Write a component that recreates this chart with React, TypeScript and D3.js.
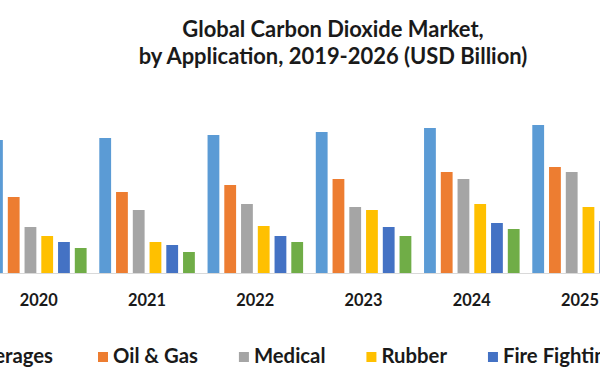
import React from "react";
import * as d3 from "d3";

const years = ["2019", "2020", "2021", "2022", "2023", "2024", "2025", "2026"];
const series = ["Food & Beverages", "Oil & Gas", "Medical", "Rubber", "Fire Fighting", "Others"];
const colors = ["#5B9BD5", "#ED7D31", "#A5A5A5", "#FFC000", "#4472C4", "#70AD47"];

// values (USD Billion, estimated) per visible year
const dataYears = ["2020", "2021", "2022", "2023", "2024", "2025"];
const foodBeverages = [6.65, 6.75, 6.9, 7.05, 7.25, 7.4];
const oilGas = [3.8, 4.05, 4.4, 4.7, 5.05, 5.3];
const medical = [2.3, 3.15, 3.45, 3.3, 4.7, 5.05];
const rubber = [1.85, 1.55, 2.35, 3.15, 3.45, 3.3];
const fireFighting = [1.55, 1.4, 1.85, 2.3, 2.5, 2.6];
const others = [1.25, 1.05, 1.55, 1.85, 2.2, 2.3];

const titleLines = ["Global Carbon Dioxide Market,", "by Application, 2019-2026 (USD Billion)"];

const W = 600;
const H = 380;
const FONT = "Lato, 'Open Sans', sans-serif";

let ctx: CanvasRenderingContext2D | null = null;
function measure(text: string, size: number) {
  if (!ctx) ctx = document.createElement("canvas").getContext("2d");
  if (!ctx) return text.length * size * 0.5;
  ctx.font = `bold ${size}px Lato`;
  return ctx.measureText(text).width;
}
function fit(text: string, target: number) {
  return (20 * target) / measure(text, 20);
}

export default function App() {
  const allSeries = [foodBeverages, oilGas, medical, rubber, fireFighting, others];
  const rows = dataYears.map((yr, i) => ({ year: yr, values: allSeries.map((s) => s[i]) }));

  const x0 = d3.scaleBand<string>().domain(years).range([-123.55, 742.45]).padding(0);
  const x1 = d3.scaleBand<string>().domain(series).range([6.35, 101.9]).paddingInner(0.2955).paddingOuter(0);
  const y = d3.scaleLinear().domain([0, 10]).range([273, 73]);

  const titleSize = fit(titleLines[1], 390);
  const yearSize = fit("2021", 38);
  const legendSize = fit("Oil & Gas", 85);

  const gap = 41;
  const sw = 15;
  const items: { x: number; name: string; color: string }[] = [];
  let cx = 98;
  for (let i = 1; i < series.length; i++) {
    items.push({ x: cx, name: series[i], color: colors[i] });
    cx += sw + measure(series[i], legendSize) + gap;
  }
  const firstW = measure(series[0], legendSize);
  items.unshift({ x: 98 - 45 - firstW - sw, name: series[0], color: colors[0] });

  return (
    <svg
      width={W}
      height={H}
      style={{ position: "absolute", left: 0, top: 0, background: "#fff" }}
      fontFamily={FONT}
    >
      <defs>
        <clipPath id="clip">
          <rect x={0} y={0} width={W} height={H} />
        </clipPath>
      </defs>
      <rect x={0} y={0} width={W} height={H} fill="#fff" />
      <g clipPath="url(#clip)">
        {titleLines.map((t, i) => (
          <text key={t} x={333} y={37 + i * 27} textAnchor="middle" fontSize={titleSize} fontWeight="bold" fill="#1a1a1a">
            {t}
          </text>
        ))}
        <line x1={0} x2={W} y1={y(0) + 0.5} y2={y(0) + 0.5} stroke="#d9d9d9" strokeWidth={1} />
        {rows.map((r) => (
          <g key={r.year} transform={`translate(${x0(r.year)},0)`}>
            {r.values.map((v, j) => (
              <rect
                key={j}
                x={x1(series[j])}
                y={y(v)}
                width={x1.bandwidth()}
                height={y(0) - y(v)}
                fill={colors[j]}
              />
            ))}
          </g>
        ))}
        {years.map((yr) => (
          <text
            key={yr}
            x={(x0(yr) as number) + x0.bandwidth() / 2}
            y={306}
            textAnchor="middle"
            fontSize={yearSize}
            fontWeight="bold"
            fill="#1a1a1a"
          >
            {yr}
          </text>
        ))}
        {items.map((it) => (
          <g key={it.name} transform={`translate(${it.x},0)`}>
            <rect x={0} y={352} width={10} height={10} fill={it.color} />
            <text x={sw} y={363} fontSize={legendSize} fontWeight="bold" fill="#1a1a1a">
              {it.name}
            </text>
          </g>
        ))}
      </g>
    </svg>
  );
}
